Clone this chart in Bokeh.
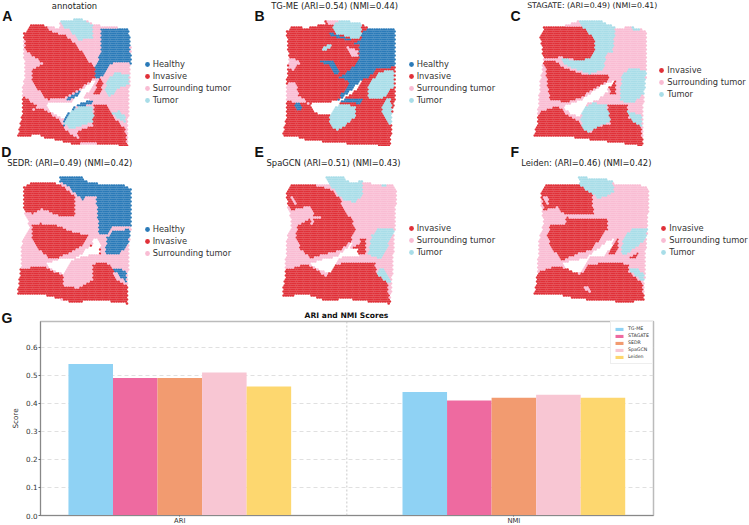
import numpy as np
from bokeh.embed import file_html
from bokeh.resources import INLINE
from bokeh.plotting import figure
from bokeh.layouts import column, row
from bokeh.core.properties import value
from bokeh.models import Legend, LegendItem, Span, FixedTicker, Range1d

METHODS = ["TG-ME", "STAGATE", "SEDR", "SpaGCN", "Leiden"]
ARI = [0.54, 0.49, 0.49, 0.51, 0.46]
NMI = [0.44, 0.41, 0.42, 0.43, 0.42]
BAR_COLORS = ["#8fd2f4", "#ee6aa0", "#f29b70", "#f8c6d3", "#fdd76f"]
METRICS = ["ARI", "NMI"]
COLORS = {"Healthy": "#2a7ab8", "Invasive": "#e03038", "Surrounding tumor": "#f9bcd3", "Tumor": "#a8dde8"}

# Tissue regions, in panel units
A_OUT = [(180,60),(245,55),(275,70),(300,75),(385,85),(392,160),(385,290),(380,437),(300,430),(215,430),(130,410),(120,402),(52,410),(65,340),(65,270),(75,220),(70,165),(70,100),(90,75),(130,75),(180,85)]
A_HOLE = [(135,310),(170,305),(215,305),(240,270),(280,238),(290,238),(275,262),(245,295),(272,295),(220,320),(190,355),(150,335)]
A_LAYERS = [
 ("Invasive", [(70,100),(90,75),(130,75),(160,95),(195,105),(225,130),(250,160),(280,200),(295,205),(280,235),(240,265),(200,290),(140,298),(115,270),(95,240),(95,205),(130,190),(75,150),(72,125)]),
 ("Invasive", [(295,235),(310,240),(300,285),(275,282),(285,262)]),
 ("Invasive", [(65,285),(110,315),(95,330),(125,322),(180,360),(190,385),(225,410),(240,430),(215,430),(130,410),(120,402),(52,410),(65,340)]),
 ("Invasive", [(225,395),(275,375),(280,315),(320,310),(335,345),(375,385),(380,437),(300,430),(240,425)]),
 ("Healthy", [(300,85),(385,85),(392,190),(350,185),(325,195),(300,235),(285,235),(285,195),(300,160)]),
 ("Healthy", [(195,295),(235,270),(250,270),(230,295),(200,298)]),
 ("Healthy", [(190,355),(215,320),(245,305),(280,300),(270,312),(230,320),(200,350),(190,380)]),
 ("Tumor", [(180,60),(245,55),(275,75),(275,115),(235,118),(205,85),(185,78)]),
 ("Tumor", [(315,275),(320,240),(345,215),(385,225),(385,250),(350,265),(330,290)]),
 ("Tumor", [(190,365),(205,340),(235,318),(270,315),(280,340),(275,365),(230,380),(210,387)]),
 ("Tumor", [(335,340),(355,332),(378,350),(372,365)]),
]
B_OUT = [(108,95),(120,78),(170,82),(225,70),(225,57),(270,58),(330,68),(355,82),(435,85),(435,280),(425,345),(420,437),(330,432),(240,425),(170,420),(125,405),(95,412),(108,350),(108,250),(115,170)]
B_HOLE = [(180,305),(225,305),(265,300),(300,270),(330,240),(335,245),(310,275),(275,300),(240,340),(210,345),(185,330)]
B_LAYERS = [
 ("Invasive", [(95,40),(440,40),(440,440),(95,440)]),
 ("Surrounding tumor", [(225,57),(270,58),(250,75),(235,75)]),
 ("Surrounding tumor", [(290,140),(320,150),(325,170),(300,165)]),
 ("Surrounding tumor", [(115,170),(150,185),(125,210),(115,200)]),
 ("Surrounding tumor", [(108,250),(135,245),(145,285),(175,310),(135,305),(110,300)]),
 ("Tumor", [(215,145),(240,130),(242,140),(225,152)]),
 ("Healthy", [(335,95),(360,82),(435,85),(435,200),(380,205),(350,235),(300,245),(265,230),(290,215),(325,180),(325,135)]),
 ("Healthy", [(200,180),(250,180),(270,225),(255,225),(235,195)]),
 ("Healthy", [(130,305),(150,305),(155,325),(140,330)]),
 ("Healthy", [(240,300),(280,295),(335,295),(330,310),(280,305)]),
 ("Healthy", [(235,95),(330,125),(325,135),(290,120),(240,105)]),
 ("Healthy", [(300,245),(335,240),(280,295),(265,290)]),
 ("Invasive", [(300,112),(320,112),(320,128),(300,125)]),
 ("Invasive", [(370,215),(435,200),(435,212),(375,225)]),
 ("Tumor", [(245,72),(280,58),(330,68),(335,100),(325,118),(260,100)]),
 ("Tumor", [(350,290),(355,255),(385,215),(430,210),(432,255),(395,295),(360,295)]),
 ("Tumor", [(237,340),(255,315),(290,310),(315,320),(315,350),(260,392),(240,375)]),
 ("Tumor", [(395,315),(420,285),(425,345),(420,375),(395,340)]),
]
C_OUT = [(120,110),(130,80),(185,80),(235,60),(300,60),(345,82),(400,80),(438,90),(438,220),(430,285),(425,380),(428,437),(340,425),(250,415),(180,405),(130,410),(100,410),(110,370),(115,300),(120,240),(130,180)]
C_HOLE = [(190,320),(205,310),(240,300),(280,270),(310,250),(345,240),(325,262),(320,275),(290,300),(260,310),(240,350),(210,340)]
C_LAYERS = [
 ("Invasive", [(120,110),(130,80),(185,80),(240,75),(260,90),(285,120),(285,155),(265,175),(240,180),(180,170),(130,175),(125,145)]),
 ("Invasive", [(125,180),(160,178),(190,200),(230,215),(265,225),(325,225),(325,240),(280,265),(245,290),(200,305),(150,300),(140,250),(135,205)]),
 ("Invasive", [(115,335),(175,315),(190,335),(240,365),(250,390),(270,395),(290,378),(330,370),(320,310),(380,310),(385,350),(422,378),(428,437),(340,425),(250,415),(180,405),(130,410),(100,410),(110,370)]),
 ("Invasive", [(325,262),(345,240),(345,285),(330,285)]),
 ("Tumor", [(235,60),(300,60),(345,80),(335,155),(315,160),(310,205),(270,220),(205,200),(180,175),(240,180),(265,175),(285,155),(285,120),(260,90),(240,75)]),
 ("Tumor", [(358,285),(365,225),(385,205),(438,208),(430,280),(395,310),(360,300)]),
 ("Tumor", [(240,360),(250,320),(280,308),(318,315),(330,365),(290,378),(265,395),(250,385)]),
 ("Tumor", [(380,330),(425,345),(425,378),(400,365)]),
 ("Tumor", [(395,78),(420,78),(420,88),(395,88)]),
]
D_OUT = [(70,110),(90,98),(135,97),(180,100),(180,80),(245,80),(260,95),(300,100),(360,100),(392,115),(392,220),(385,290),(380,460),(310,450),(210,455),(120,430),(50,435),(60,370),(65,270),(90,230),(72,190),(70,140)]
D_HOLE = [(135,340),(180,325),(235,320),(250,300),(275,285),(275,268),(290,265),(300,285),(295,310),(265,315),(220,325),(190,372),(150,355)]
D_LAYERS = [
 ("Invasive", [(70,110),(90,98),(135,97),(180,100),(225,140),(225,195),(205,200),(170,195),(125,175),(100,190),(72,185),(70,140)]),
 ("Invasive", [(95,225),(120,218),(170,225),(220,245),(265,255),(250,285),(220,300),(180,320),(150,325),(110,295),(95,265)]),
 ("Invasive", [(60,355),(130,345),(150,360),(190,375),(190,410),(225,410),(215,455),(120,430),(50,435)]),
 ("Invasive", [(215,420),(275,390),(275,340),(320,335),(335,355),(345,385),(380,405),(380,460),(310,450),(215,455)]),
 ("Invasive", [(265,285),(285,280),(290,295),(265,295)]),
 ("Invasive", [(285,295),(300,275),(300,310),(285,310)]),
 ("Healthy", [(180,80),(245,80),(260,95),(300,100),(360,100),(392,115),(392,225),(335,230),(320,250),(295,255),(290,180),(285,140),(260,135),(250,150),(225,130),(205,110),(180,95)]),
 ("Healthy", [(315,300),(320,260),(340,240),(390,235),(385,275),(360,310),(320,315)]),
 ("Healthy", [(335,355),(360,355),(378,365),(378,395),(355,375)]),
]
E_OUT = [(108,130),(120,100),(175,100),(240,100),(222,80),(280,80),(295,95),(335,92),(390,105),(432,105),(437,130),(432,240),(425,370),(420,460),(370,455),(290,445),(220,450),(170,430),(95,440),(105,370),(108,270),(125,220),(115,180),(110,150)]
E_HOLE = [(180,338),(210,328),(255,320),(280,300),(315,265),(300,295),(320,295),(325,315),(280,320),(270,322),(240,365),(225,365),(190,350)]
E_LAYERS = [
 ("Invasive", [(108,130),(120,100),(175,100),(240,115),(270,145),(280,180),(305,205),(315,240),(300,275),(270,300),(225,310),(180,325),(150,295),(135,260),(140,225),(185,200),(165,170),(120,180),(110,155)]),
 ("Surrounding tumor", [(120,135),(135,150),(135,165)]),
 ("Surrounding tumor", [(165,170),(180,170),(190,195),(225,205),(190,205),(185,225)]),
 ("Invasive", [(100,360),(150,345),(180,345),(230,380),(245,345),(290,335),(375,335),(378,370),(410,395),(420,460),(370,455),(290,445),(220,450),(170,430),(95,440)]),
 ("Invasive", [(300,295),(325,280),(330,265),(345,265),(345,310),(325,315),(320,295)]),
 ("Tumor", [(222,80),(280,80),(295,95),(335,92),(338,130),(315,155),(280,150),(240,105)]),
 ("Tumor", [(352,310),(365,255),(385,235),(432,235),(420,265),(400,315),(385,325)]),
 ("Tumor", [(378,370),(395,350),(420,390),(420,400),(410,395)]),
 ("Tumor", [(395,98),(408,98),(408,108),(395,108)]),
]
F_OUT = [(120,125),(135,100),(200,100),(240,100),(230,80),(290,82),(335,90),(345,100),(400,100),(440,110),(445,135),(440,240),(435,300),(430,450),(380,455),(300,450),(230,445),(170,430),(100,435),(112,370),(115,270),(130,220),(122,160)]
F_HOLE = [(185,340),(215,330),(255,325),(285,300),(315,275),(340,265),(335,290),(305,320),(270,320),(240,370),(205,360)]
F_LAYERS = [
 ("Invasive", [(120,125),(135,100),(200,100),(240,105),(275,130),(280,190),(240,195),(195,195),(170,170),(130,180),(125,150)]),
 ("Surrounding tumor", [(128,135),(148,145),(140,165)]),
 ("Invasive", [(195,200),(250,205),(320,205),(322,235),(300,265),(270,300),(230,310),(185,330),(150,290),(140,255),(150,225),(195,220)]),
 ("Invasive", [(110,365),(175,345),(200,355),(240,372),(260,345),(310,335),(385,340),(385,365),(425,395),(430,450),(380,455),(300,450),(230,445),(170,430),(100,435)]),
 ("Surrounding tumor", [(240,400),(270,415),(275,430),(250,415)]),
 ("Invasive", [(325,310),(350,260),(355,280),(345,315)]),
 ("Invasive", [(388,322),(415,305),(410,322),(395,328)]),
 ("Tumor", [(230,80),(290,82),(335,90),(340,125),(295,145),(275,130),(240,105)]),
 ("Tumor", [(362,300),(370,260),(395,235),(445,235),(430,270),(400,295),(370,315)]),
 ("Tumor", [(385,355),(405,352),(430,370),(428,395),(410,380)]),
]


def inside(px, py, poly):
    v = np.array(poly, dtype=float)
    x0, y0 = v[:, 0], v[:, 1]
    x1, y1 = np.roll(x0, -1), np.roll(y0, -1)
    res = np.zeros(px.shape, dtype=bool)
    for a, b, c, d in zip(x0, y0, x1, y1):
        cond = (b > py) != (d > py)
        with np.errstate(divide="ignore", invalid="ignore"):
            res ^= cond & (px < (c - a) * (py - b) / (d - b) + a)
    return res


def panel(letter, letter_x, letter_y, title, title_x, title_y, out, hole, layers, base, legend_cats,
          dot_x, rows, y0, y1, width, title_size="8.4px", legend_size="8.3px", title_align="left"):
    h = int(round((y1 - y0) / 3))
    p = figure(width=width, height=h, x_range=Range1d(0, width * 3), y_range=Range1d(y1, y0),
               output_backend="svg", toolbar_location=None, min_border=0, outline_line_color=None,
               background_fill_color=None, border_fill_color=None)
    p.axis.visible = False
    p.grid.visible = False
    ys = np.arange(45, 470, 6.0)
    xs_all, ys_all = [], []
    for i, y in enumerate(ys):
        xr = np.arange(40 + (i % 2) * 3.5, 460, 7.0)
        xs_all.append(xr)
        ys_all.append(np.full(xr.shape, y))
    sx, sy = np.concatenate(xs_all), np.concatenate(ys_all)
    keep = inside(sx, sy, out) & ~inside(sx, sy, hole)
    sx, sy = sx[keep], sy[keep]
    lab = np.array([base] * len(sx), dtype=object)
    for cat, poly in layers:
        lab[inside(sx, sy, poly)] = cat
    items = []
    for cat in legend_cats:
        m = lab == cat
        r = p.scatter(sx[m], sy[m], size=2.7, color=COLORS[cat], line_color=None)
        items.append(LegendItem(label=cat, renderers=[r]))
    step = (rows[-1] - rows[0]) / (len(rows) - 1) / 3
    top = rows[0] / 3 - y0 / 3 - step / 2
    leg = Legend(items=items, orientation="vertical", border_line_color=None, background_fill_alpha=0,
                 margin=0, padding=0, spacing=0, glyph_width=12, glyph_height=12, label_height=int(round(step)),
                 label_standoff=0, label_text_font="DejaVu Sans", label_text_font_size=legend_size,
                 label_text_color="#333333",
                 location=(dot_x / 3 - 6, h - top - step * len(rows)))
    p.add_layout(leg)
    p.text([title_x], [title_y], text=[title], text_font=value("DejaVu Sans"), text_font_size=title_size,
           text_baseline="middle", text_align=title_align, text_color="#222222")
    p.text([letter_x], [letter_y], text=[letter], text_font=value("Liberation Sans"), text_font_size="14px",
           text_font_style="bold", text_baseline="middle", text_color="#111111")
    return p


H3 = ["Healthy", "Invasive", "Surrounding tumor"]
I3 = ["Invasive", "Surrounding tumor", "Tumor"]
ALL4 = ["Healthy", "Invasive", "Surrounding tumor", "Tumor"]
s = "Surrounding tumor"
pa = panel("A", 5, 47, "annotation", 222, 15, A_OUT, A_HOLE, A_LAYERS, s, ALL4, 440, [192, 228, 265, 300], 0, 438, 250, title_align="center")
pb = panel("B", 12, 47, "TG-ME (ARI=0.54) (NMI=0.44)", 62, 15, B_OUT, B_HOLE, B_LAYERS, s, ALL4, 482, [192, 228, 265, 300], 0, 438, 250)
pc = panel("C", 30, 47, "STAGATE: (ARI=0.49) (NMI=0.41)", 80, 15, C_OUT, C_HOLE, C_LAYERS, s, I3, 484, [213, 248, 283], 0, 438, 249, title_size="7.8px")
pd_ = panel("D", 2, 3, "SEDR: (ARI=0.49) (NMI=0.42)", 20, 38, D_OUT, D_HOLE, D_LAYERS, s, H3, 440, [233, 270, 307], -30, 465, 250)
pe = panel("E", 12, 3, "SpaGCN (ARI=0.51) (NMI=0.43)", 48, 38, E_OUT, E_HOLE, E_LAYERS, s, I3, 482, [233, 270, 306], -30, 465, 250)
pf = panel("F", 30, 3, "Leiden: (ARI=0.46) (NMI=0.42)", 62, 38, F_OUT, F_HOLE, F_LAYERS, s, I3, 490, [233, 269, 306], -30, 465, 249)

# Strip holding the bar chart's letter and title, which the chart's own canvas overlaps
header = figure(width=749, height=21, x_range=Range1d(0, 749), y_range=Range1d(21, 0),
                output_backend="svg", toolbar_location=None, min_border=0, outline_line_color=None,
                background_fill_color=None, border_fill_color=None)
header.axis.visible = False
header.grid.visible = False
header.text([346], [10], text=["ARI and NMI Scores"], text_align="center", text_baseline="middle",
            text_font=value("DejaVu Sans"), text_font_style="bold", text_font_size="7.6px", text_color="#111111")
header.text([1], [12], text=["G"], text_baseline="middle", text_font=value("Liberation Sans"),
            text_font_style="bold", text_font_size="14px", text_color="#111111")

g = figure(width=749, height=220, frame_height=194, frame_width=613,
           x_range=Range1d(-0.417, 1.418), y_range=Range1d(0, 0.6915),
           output_backend="svg", toolbar_location=None,
           min_border_left=40, min_border_right=96, min_border_top=16, min_border_bottom=0,
           outline_line_color="#bbbbbb", outline_line_width=1.5,
           background_fill_color=None, border_fill_color=None)
g.xgrid.visible = False
g.ygrid.grid_line_color = "#d8d8d8"
g.ygrid.grid_line_dash = "4 3"
g.ygrid.grid_line_width = 0.8
g.yaxis.ticker = FixedTicker(ticks=[0.0, 0.1, 0.2, 0.3, 0.4, 0.5, 0.6])
g.yaxis.major_label_overrides = {0.0: "0.0", 0.1: "0.1", 0.2: "0.2", 0.3: "0.3", 0.4: "0.4", 0.5: "0.5", 0.6: "0.6"}
g.xaxis.ticker = FixedTicker(ticks=[0, 1])
g.xaxis.major_label_overrides = {0: METRICS[0], 1: METRICS[1]}
for ax in (g.xaxis[0], g.yaxis[0]):
    ax.major_label_text_font = "DejaVu Sans"
    ax.major_label_text_font_size = "7.2px"
    ax.major_label_text_color = "#333333"
    ax.axis_line_color = "#888888"
    ax.axis_line_width = 1
    ax.major_tick_line_color = "#666666"
    ax.major_tick_out = 2
    ax.major_tick_in = 0
    ax.minor_tick_line_color = None
    ax.major_label_standoff = 1
g.xaxis[0].major_label_text_font_size = "6.8px"
g.xaxis[0].major_label_standoff = 0
g.xaxis[0].major_tick_out = 1
g.yaxis.axis_label = "Score"
g.yaxis.axis_label_text_font = "DejaVu Sans"
g.yaxis.axis_label_text_font_style = "normal"
g.yaxis.axis_label_text_font_size = "7.2px"
g.yaxis.axis_label_text_color = "#333333"
g.yaxis.axis_label_standoff = 3
g.add_layout(Span(location=0.5, dimension="height", line_color="#bbbbbb", line_dash="2 2", line_width=0.8))
items = []
w = 0.8 / 6
for i, (m, c) in enumerate(zip(METHODS, BAR_COLORS)):
    r = g.vbar(x=[0 + (i - 2) * w, 1 + (i - 2) * w], top=[ARI[i], NMI[i]], width=w, color=c, line_color=None)
    items.append(LegendItem(label=m, renderers=[r]))
leg = Legend(items=items, location=(570, 194 - 2 - 41), margin=0, padding=3, spacing=0, glyph_width=10, glyph_height=4,
             label_height=7, label_standoff=4, label_text_font="DejaVu Sans", label_text_font_size="4.7px",
             label_text_color="#333333", border_line_color="#dddddd", border_line_width=0.8)
g.add_layout(leg)

row1 = row(pa, pb, pc, spacing=0)
row2 = row(pd_, pe, pf, spacing=0, styles={"margin-top": "-6px"})
row3 = row(g, spacing=0, styles={"margin-top": "-21px"})
layout = column(row1, row2, header, row3, spacing=0)
open("out.html", "w").write(file_html(layout, INLINE))
